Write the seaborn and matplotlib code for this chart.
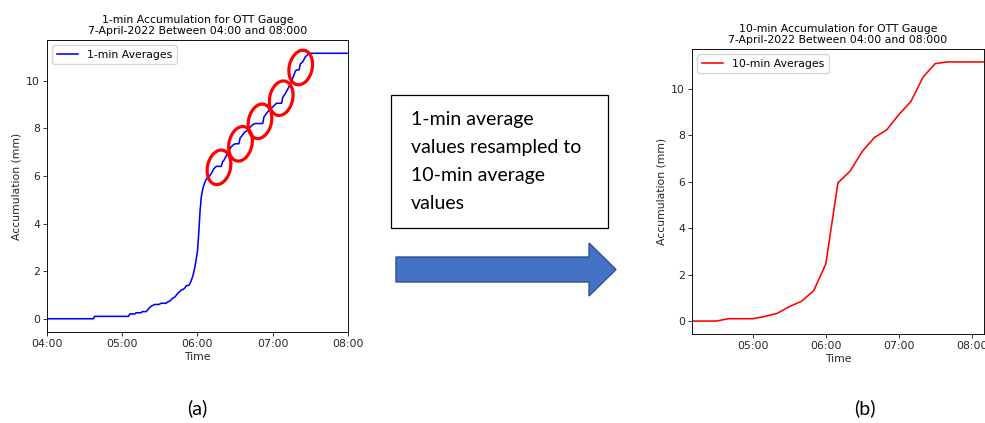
import pandas as pd
import matplotlib
matplotlib.use("Agg")
import matplotlib.pyplot as plt
import matplotlib.dates as mdates
from matplotlib.patches import Ellipse, Rectangle, FancyArrow
import seaborn as sns

# 1-min accumulation (mm), one value per minute from 04:00 to 08:00
acc_04 = [0.0] * 38 + [0.1] * 22
acc_05 = ([0.1] * 6 + [0.2] * 5 + [0.25] * 5 + [0.3] * 4 +
          [0.35, 0.42, 0.48, 0.52, 0.55, 0.58] + [0.6] * 4 + [0.62] + [0.65] * 5 +
          [0.7, 0.72, 0.75, 0.8, 0.85, 0.88, 0.92, 0.98, 1.05, 1.1, 1.15, 1.2,
           1.22, 1.25, 1.3, 1.38, 1.4, 1.4, 1.48, 1.6, 1.75, 1.95, 2.2, 2.5])
acc_06 = ([2.85, 3.6, 4.5, 5.1, 5.4, 5.6, 5.75, 5.85, 5.92, 5.97, 6.02, 6.1, 6.2, 6.3, 6.35] +
          [6.4] * 5 +
          [6.6, 6.65, 6.75, 6.85, 6.95, 7.05, 7.15, 7.22, 7.28, 7.32] +
          [7.35] * 4 +
          [7.6, 7.65, 7.72, 7.8, 7.85, 7.88, 7.92, 7.98, 8.05, 8.1, 8.15, 8.18] +
          [8.2] * 7 +
          [8.48, 8.55, 8.62, 8.7, 8.75, 8.8, 8.85])
acc_07 = ([8.9, 8.95, 9.0] + [9.05] * 5 +
          [9.3, 9.38, 9.45, 9.55, 9.65, 9.75, 9.85, 9.98, 10.1, 10.25, 10.4] +
          [10.45] * 3 +
          [10.7, 10.75, 10.8, 10.9, 11.0, 11.05, 11.1, 11.12] +
          [11.15] * 30)
acc_08 = [11.15]
acc_1min = acc_04 + acc_05 + acc_06 + acc_07 + acc_08
time_1min = pd.date_range("2022-04-07 04:00", periods=len(acc_1min), freq="1min")

# 10-min resampled accumulation (mm), 04:10 to 08:10
acc_10min = [0.0, 0.0, 0.0, 0.1, 0.1, 0.1, 0.2, 0.33, 0.62, 0.85, 1.3, 2.45,
             5.95, 6.45, 7.3, 7.9, 8.22, 8.88, 9.45, 10.5, 11.08, 11.15, 11.15, 11.15, 11.15]
time_10min = pd.date_range("2022-04-07 04:10", periods=len(acc_10min), freq="10min")

title_1 = "1-min Accumulation for OTT Gauge\n7-April-2022 Between 04:00 and 08:000"
title_2 = "10-min Accumulation for OTT Gauge\n7-April-2022 Between 04:00 and 08:000"
box_text = "1-min average\nvalues resampled to\n10-min average\nvalues"

fs = 7.8
plt.rcParams.update({
    "font.family": ["DejaVu Sans"],
    "font.size": fs,
    "axes.linewidth": 0.65,
    "xtick.major.size": 2.6, "ytick.major.size": 2.6,
    "xtick.major.width": 0.65, "ytick.major.width": 0.65,
    "xtick.major.pad": 2.5, "ytick.major.pad": 2.5,
    "xtick.color": "#262626", "ytick.color": "#262626",
    "axes.labelcolor": "#262626",
})

fig = plt.figure(figsize=(9.85, 4.23), dpi=100)
ax1 = fig.add_axes([0.0477, 0.2151, 0.3056, 0.6903])
ax2 = fig.add_axes([0.7025, 0.2104, 0.2964, 0.6738])

sns.lineplot(x=time_1min, y=acc_1min, ax=ax1, color="blue", linewidth=1.15, label="1-min Averages")
sns.lineplot(x=time_10min, y=acc_10min, ax=ax2, color="red", linewidth=1.15, label="10-min Averages")

for ax, ttl, t in [(ax1, title_1, time_1min), (ax2, title_2, time_10min)]:
    ax.set_xlim(t[0], t[-1])
    ax.xaxis.set_major_locator(mdates.HourLocator())
    ax.xaxis.set_major_formatter(mdates.DateFormatter("%H:%M"))
    ax.set_title(ttl, fontsize=fs, pad=4)
    ax.set_xlabel("Time", labelpad=2)
    ax.set_ylabel("Accumulation (mm)", labelpad=3)
    ax.set_yticks([0, 2, 4, 6, 8, 10])
    ax.legend(loc="upper left", fontsize=fs, framealpha=0.8, edgecolor="#cccccc",
              handlelength=2, borderpad=0.4)
    ax.set_facecolor("white")

# red circles around the small steps
circles = [(0.5714, 0.5640), (0.6429, 0.6445), (0.7076, 0.7216), (0.7781, 0.8007), (0.8429, 0.9058)]
for cx, cy in circles:
    ax1.add_patch(Ellipse((cx, cy), 23 / 301, 35 / 292, angle=-12, transform=ax1.transAxes,
                          fill=False, edgecolor="red", linewidth=2.3, zorder=5, clip_on=False))

# text box and arrow in the middle
fig.add_artist(Rectangle((0.397, 0.461), 0.2203, 0.3144, transform=fig.transFigure,
                         fill=False, edgecolor="black", linewidth=0.9))
fig.text(0.4173, 0.738, box_text, fontsize=14, family=["Lato", "DejaVu Sans"],
         va="top", ha="left", linespacing=1.78)
fig.add_artist(FancyArrow(0.402, 0.3629, 0.2234, 0, width=0.0591, head_width=0.1253,
                          head_length=0.0274, length_includes_head=True,
                          transform=fig.transFigure, facecolor="#4472C4", edgecolor="#2F528F",
                          linewidth=1))

fig.text(0.2, 0.035, "(a)", fontsize=14, family=["Lato", "DejaVu Sans"], ha="center", va="center")
fig.text(0.878, 0.035, "(b)", fontsize=14, family=["Lato", "DejaVu Sans"], ha="center", va="center")

fig.savefig("out.png", dpi=100)
